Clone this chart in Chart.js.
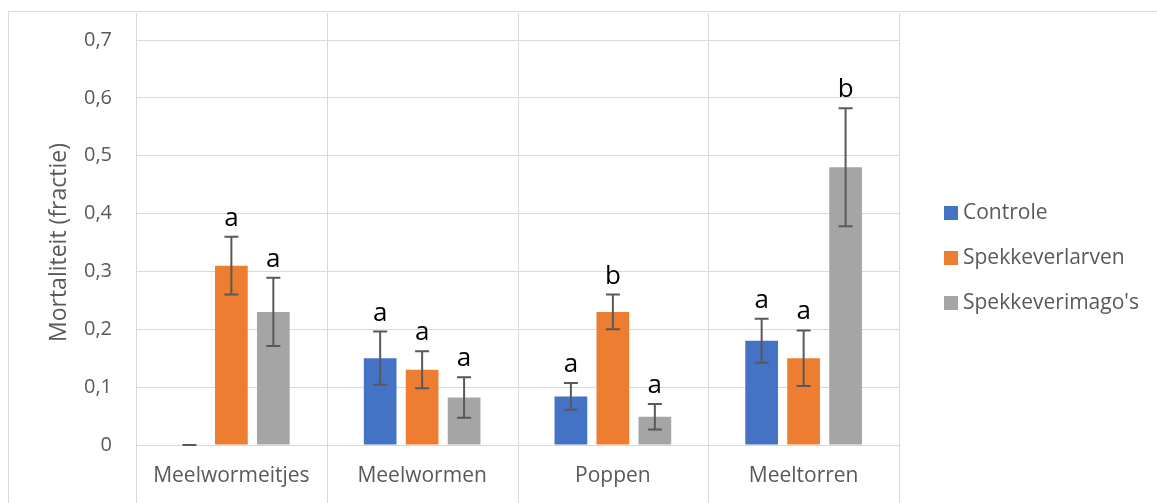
<!DOCTYPE html>
<html>
<head>
<meta charset="utf-8">
<script src="https://cdn.jsdelivr.net/npm/chart.js@4.4.1/dist/chart.umd.min.js"></script>
<style>
  html, body { margin: 0; padding: 0; background: #ffffff; }
  canvas { display: block; }
</style>
</head>
<body>
<canvas id="mortalityChart" width="1157" height="503"></canvas>
<script>
// ===== DATA =====
const categories = ['Meelwormeitjes', 'Meelwormen', 'Poppen', 'Meeltorren'];
const seriesNames = ['Controle', 'Spekkeverlarven', "Spekkeverimago's"];

const controle = [0, 0.15, 0.084, 0.18];
const spekkeverlarven = [0.31, 0.13, 0.23, 0.15];
const spekkeverimagos = [0.23, 0.082, 0.049, 0.48];

const errControle = [0, 0.046, 0.023, 0.038];
const errLarven = [0.05, 0.032, 0.03, 0.048];
const errImagos = [0.059, 0.035, 0.022, 0.102];

const lettersControle = ['', 'a', 'a', 'a'];
const lettersLarven = ['a', 'a', 'b', 'a'];
const lettersImagos = ['a', 'a', 'a', 'b'];

const yTicks = [0, 0.1, 0.2, 0.3, 0.4, 0.5, 0.6, 0.7];

const seriesValues = [controle, spekkeverlarven, spekkeverimagos];
const seriesErrors = [errControle, errLarven, errImagos];
const seriesLetters = [lettersControle, lettersLarven, lettersImagos];
const seriesColors = ['#4472C4', '#ED7D31', '#A5A5A5'];

const FONT = "'Open Sans', 'Noto Sans', sans-serif";
const GRID = '#d9d9d9';
const TEXT = '#595959';

// ===== PLUGINS =====
// white background, outer frame and full-height category separators
const framePlugin = {
    id: 'frame',
    beforeDraw(chart) {
        const ctx = chart.ctx;
        const x = chart.scales.x;
        ctx.save();
        ctx.fillStyle = '#ffffff';
        ctx.fillRect(0, 0, chart.width, chart.height);
        ctx.strokeStyle = GRID;
        ctx.lineWidth = 1;
        ctx.beginPath();
        ctx.moveTo(8.5, chart.height);
        ctx.lineTo(8.5, 11.5);
        ctx.lineTo(chart.width, 11.5);
        const catW = x.width / categories.length;
        for (let k = 0; k <= categories.length; k++) {
            const px = Math.round(x.left + k * catW) + 0.5;
            ctx.moveTo(px, 13);
            ctx.lineTo(px, chart.height);
        }
        ctx.stroke();
        ctx.restore();
    }
};

// error bars and significance letters
const errorBarPlugin = {
    id: 'errorBars',
    afterDatasetsDraw(chart) {
        const ctx = chart.ctx;
        const y = chart.scales.y;
        ctx.save();
        chart.data.datasets.forEach((ds, i) => {
            const meta = chart.getDatasetMeta(i);
            meta.data.forEach((bar, j) => {
                const v = seriesValues[i][j];
                const e = seriesErrors[i][j];
                const top = y.getPixelForValue(v + e);
                const bot = y.getPixelForValue(Math.max(v - e, 0));
                ctx.strokeStyle = TEXT;
                ctx.lineWidth = 2;
                ctx.beginPath();
                ctx.moveTo(bar.x, top);
                ctx.lineTo(bar.x, bot);
                ctx.moveTo(bar.x - 7, top);
                ctx.lineTo(bar.x + 7, top);
                ctx.moveTo(bar.x - 7, bot);
                ctx.lineTo(bar.x + 7, bot);
                ctx.stroke();

                const letter = seriesLetters[i][j];
                if (letter) {
                    ctx.fillStyle = '#000000';
                    ctx.font = '26px ' + FONT;
                    ctx.textAlign = 'center';
                    ctx.textBaseline = 'alphabetic';
                    ctx.fillText(letter, bar.x, top - 11);
                }
            });
        });
        ctx.restore();
    }
};

// legend on the right
const legendPlugin = {
    id: 'sideLegend',
    afterDraw(chart) {
        const ctx = chart.ctx;
        ctx.save();
        ctx.font = '21px ' + FONT;
        ctx.textBaseline = 'middle';
        ctx.textAlign = 'left';
        chart.data.datasets.forEach((ds, i) => {
            const cy = 213 + i * 45;
            ctx.fillStyle = ds.backgroundColor;
            ctx.fillRect(944, cy - 7, 14, 14);
            ctx.fillStyle = TEXT;
            ctx.fillText(ds.label, 963, cy);
        });
        ctx.restore();
    }
};

// ===== CHART =====
const ctx = document.getElementById('mortalityChart');
new Chart(ctx, {
    type: 'bar',
    data: {
        labels: categories,
        datasets: seriesNames.map((name, i) => ({
            label: name,
            data: seriesValues[i],
            backgroundColor: seriesColors[i],
            borderWidth: 0,
            categoryPercentage: 0.66,
            barPercentage: 0.78
        }))
    },
    options: {
        responsive: false,
        animation: false,
        layout: { padding: { top: 40, right: 258, left: 0, bottom: 0 } },
        plugins: {
            legend: { display: false },
            tooltip: { enabled: false }
        },
        scales: {
            x: {
                grid: { display: false, drawTicks: false },
                border: { display: false },
                ticks: { color: TEXT, font: { family: FONT, size: 21 }, padding: 18 },
                afterFit(scale) { scale.height = 58; }
            },
            y: {
                min: 0,
                max: 0.7,
                afterBuildTicks(scale) { scale.ticks = yTicks.map(v => ({ value: v })); },
                grid: { color: GRID, lineWidth: 1, drawTicks: false },
                border: { display: false },
                ticks: {
                    color: TEXT,
                    font: { family: FONT, size: 20 },
                    padding: 24,
                    callback: v => v === 0 ? '0' : v.toFixed(1).replace('.', ',')
                },
                title: {
                    display: true,
                    text: 'Mortaliteit (fractie)',
                    color: TEXT,
                    font: { family: FONT, size: 23 },
                    padding: { top: 46, bottom: 0 }
                },
                afterFit(scale) { scale.width = 136; }
            }
        }
    },
    plugins: [framePlugin, errorBarPlugin, legendPlugin]
});
</script>
</body>
</html>
